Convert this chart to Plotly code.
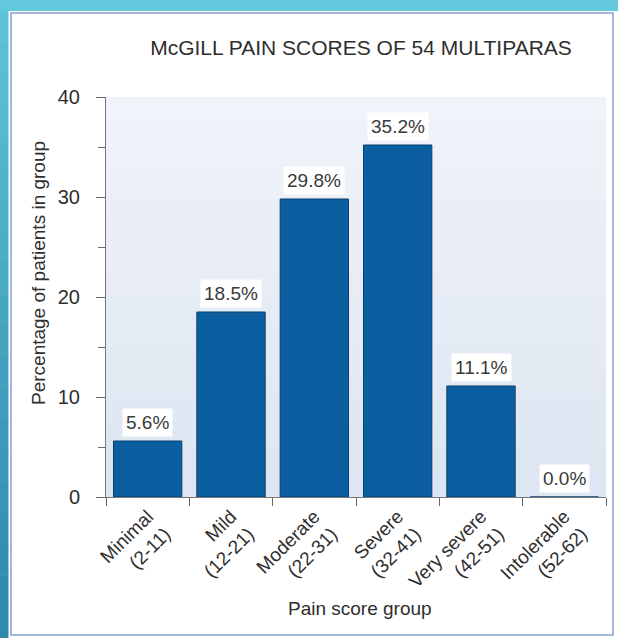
import plotly.graph_objects as go

categories = ["Minimal<br>(2-11)", "Mild<br>(12-21)", "Moderate<br>(22-31)", "Severe<br>(32-41)",
              "Very severe<br>(42-51)", "Intolerable<br>(52-62)"]
percentages = [5.6, 18.5, 29.8, 35.2, 11.1, 0.0]
bar_labels = ["5.6%", "18.5%", "29.8%", "35.2%", "11.1%", "0.0%"]
y_ticks = [0, 10, 20, 30, 40]

W, H = 618, 638
ML, MR, MT, MB = 106, 12, 97, 141
PW, PH = W - ML - MR, H - MT - MB
FONT = "Liberation Sans, Arial, Helvetica"
TXT = "#2e2e2e"


def px_x(px):
    return (px - ML) / PW


def px_y(py):
    return (H - MB - py) / PH


fig = go.Figure()
fig.add_trace(go.Bar(
    x=categories, y=percentages,
    marker=dict(color="#0b5e9f", line=dict(color="#0a3f6e", width=1)),
    width=0.82, hoverinfo="skip",
))

for c, v, t in zip(categories, percentages, bar_labels):
    fig.add_annotation(x=c, y=v, text=t, showarrow=False, yanchor="bottom", yshift=4,
                       bgcolor="white", borderpad=3,
                       font=dict(family=FONT, size=19, color="#3a3a3a"))

# axis titles placed as annotations
fig.add_annotation(xref="paper", yref="paper", x=px_x(38), y=px_y(273), text="Percentage of patients in group",
                   textangle=-90, showarrow=False, xanchor="center", yanchor="middle",
                   font=dict(family=FONT, size=19, color=TXT))
fig.add_annotation(xref="paper", yref="paper", x=px_x(360), y=px_y(608), text="Pain score group",
                   showarrow=False, xanchor="center", yanchor="middle",
                   font=dict(family=FONT, size=19, color=TXT))

shapes = []
# plot-area gradient
n = 16
for i in range(n):
    f = i / (n - 1)
    r = int(0xf0 + (0xdd - 0xf0) * f)
    g = int(0xf3 + (0xe6 - 0xf3) * f)
    b = int(0xf9 + (0xf2 - 0xf9) * f)
    shapes.append(dict(type="rect", xref="paper", yref="paper", x0=0, x1=1,
                       y0=1 - (i + 1) / n - 0.002, y1=1 - i / n,
                       fillcolor=f"rgb({r},{g},{b})", line=dict(width=0), layer="below"))
# outer teal frame
shapes.append(dict(type="rect", xref="paper", yref="paper", x0=px_x(0), x1=px_x(W), y0=px_y(11), y1=px_y(0),
                   fillcolor="#62c9dd", line=dict(width=0), layer="below"))
n = 20
for i in range(n):
    y0 = 11 + (H - 11) * i / n
    y1 = 11 + (H - 11) * (i + 1) / n
    f = i / (n - 1)
    r = int(0x5c + (0x2f - 0x5c) * f)
    g = int(0xc2 + (0x8a - 0xc2) * f)
    b = int(0xd8 + (0xac - 0xd8) * f)
    shapes.append(dict(type="rect", xref="paper", yref="paper", x0=px_x(0), x1=px_x(8.5),
                       y0=px_y(y1 + 0.5), y1=px_y(y0), fillcolor=f"rgb({r},{g},{b})",
                       line=dict(width=0), layer="below"))
# panel border
shapes.append(dict(type="rect", xref="paper", yref="paper", x0=px_x(11), x1=px_x(613), y0=px_y(635), y1=px_y(13),
                   fillcolor="rgba(0,0,0,0)", line=dict(color="#a3b7d8", width=2), layer="below"))

fig.update_layout(
    width=W, height=H,
    margin=dict(l=ML, r=MR, t=MT, b=MB),
    paper_bgcolor="white",
    plot_bgcolor="#e7edf6",
    showlegend=False,
    shapes=shapes,
    title=dict(text="McGILL PAIN SCORES OF 54 MULTIPARAS", x=px_x(361), xanchor="center",
               xref="paper", y=1 - 48 / H, yanchor="middle",
               font=dict(family=FONT, size=21, color=TXT)),
    font=dict(family=FONT, color=TXT),
)
fig.update_xaxes(
    tickangle=-45, tickson="boundaries", ticks="outside", ticklen=8, tickcolor="#666",
    showline=True, linecolor="#777", linewidth=1, showgrid=False,
    tickfont=dict(size=19, color=TXT),
)
fig.update_yaxes(
    range=[0, 40], tickvals=y_ticks, ticks="outside", ticklen=9, tickcolor="#666",
    minor=dict(dtick=5, ticks="outside", ticklen=7, tickcolor="#666"),
    showline=True, linecolor="#777", linewidth=1, showgrid=False, zeroline=False,
    tickfont=dict(size=20, color=TXT), ticklabelstandoff=12,
)

fig.write_html("out.html", config={"displayModeBar": False},
               post_script="document.body.style.margin='0';document.body.style.overflow='hidden';")
